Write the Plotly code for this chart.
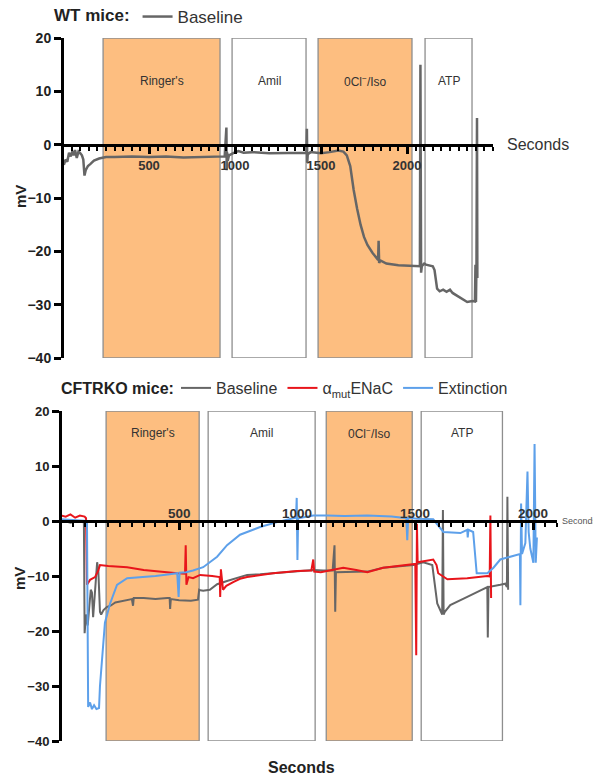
import plotly.graph_objects as go

# ---------------- protocol steps (seconds) ----------------
step_names = ["Ringer's", "Amil", "0Cl<sup>−</sup>/Iso", "ATP"]
step_fill = ["#FDBE80", "#FFFFFF", "#FDBE80", "#FFFFFF"]
wt_step_start = [233, 983, 1483, 2105]
wt_step_end = [913, 1413, 2029, 2378]
ko_step_start = [191, 623, 1123, 1525]
ko_step_end = [585, 1076, 1487, 1869]

# ---------------- WT mice: baseline trace ----------------
wt_t = [5, 15, 25, 35, 45, 55, 62, 70, 80, 90, 100, 110, 118, 125, 132, 145, 160, 180,
        210, 250, 300, 400, 500, 600, 700, 800, 900, 940, 950, 952, 955, 958, 965, 990,
        1020, 1050, 1100, 1200, 1300, 1400, 1415, 1418, 1420, 1423, 1440, 1500, 1550,
        1600, 1630, 1650, 1670, 1690, 1710, 1730, 1750, 1770, 1800, 1825, 1832, 1835,
        1838, 1845, 1880, 1950, 2050, 2075, 2078, 2082, 2086, 2100, 2110, 2150, 2160,
        2175, 2190, 2210, 2230, 2250, 2265, 2290, 2320, 2350, 2380, 2395, 2398, 2401,
        2404, 2407, 2409]
wt_mv = [-3.8, -2.8, -3.2, -1.5, -2.2, -1.2, -2.0, -1.0, -2.5, -1.3, -1.6, -2.0, -2.8,
         -5.8, -4.8, -4.0, -3.6, -3.0, -2.6, -2.3, -2.3, -2.2, -2.3, -2.2, -2.4, -2.3,
         -2.3, -2.2, 3.2, -4.8, -1.5, -3.0, -2.0, -1.6, -1.2, -1.5, -1.4, -1.6, -1.5,
         -1.4, -1.5, 3.0, -3.4, -1.8, -1.4, -1.6, -1.4, -1.1, -1.3, -2.0, -4.0, -8.5,
         -12.0, -15.0, -17.3, -18.8, -20.3, -21.3, -21.6, -18.0, -22.2, -21.7, -22.3,
         -22.6, -22.8, -22.8, 15.0, -24.0, -22.8, -22.3, -22.5, -22.8, -23.5, -27.0,
         -27.5, -27.2, -27.6, -27.2, -27.8, -28.3, -28.9, -29.5, -29.3, -29.4, -22.5,
         -29.5, -22.0, 5.0, -25.0]

# ---------------- CFTRKO mice ----------------
ko_base_t = [0, 40, 80, 97, 100, 106, 113, 120, 126, 131, 136, 142, 148, 153, 158, 165,
             170, 180, 195, 210, 230, 250, 270, 300, 305, 308, 350, 400, 450, 460, 462,
             465, 500, 550, 580, 585, 590, 602, 630, 661, 703, 758, 788, 843, 898, 950,
             1000, 1068, 1110, 1150, 1158, 1161, 1164, 1200, 1297, 1364, 1492, 1534,
             1572, 1593, 1614, 1617, 1620, 1625, 1648, 1720, 1805, 1807, 1810, 1860,
             1881, 1888, 1890, 1893]
ko_base_mv = [0.2, -0.3, 0.0, -0.3, -20.4, -17.0, -19.0, -15.5, -12.5, -13.0, -17.5,
              -14.0, -9.5, -7.5, -9.0, -16.5, -17.0, -16.2, -15.6, -15.4, -14.8, -14.6,
              -14.4, -14.2, -15.4, -14.0, -14.0, -14.2, -14.0, -14.0, -16.0, -14.2,
              -14.4, -14.5, -14.3, -12.5, -12.6, -12.7, -12.5, -11.5, -10.9, -10.2,
              -9.8, -9.7, -9.5, -9.4, -9.2, -8.9, -9.0, -9.0, -4.4, -16.5, -9.3, -9.3,
              -9.2, -8.5, -8.0, -7.5, -8.0, -15.0, -17.0, 2.0, -17.0, -16.5, -15.3,
              -13.8, -12.0, -21.2, -12.0, -11.6, -11.4, -12.0, 4.4, -12.5]

ko_enac_t = [0, 20, 40, 60, 80, 100, 106, 110, 123, 144, 158, 165, 200, 280, 350, 390,
             450, 492, 525, 528, 531, 540, 559, 589, 640, 661, 672, 674, 677, 686, 700,
             729, 758, 788, 843, 898, 1000, 1060, 1068, 1072, 1100, 1195, 1250, 1297,
             1364, 1479, 1500, 1504, 1507, 1510, 1534, 1576, 1590, 1597, 1636, 1720,
             1805, 1815, 1818, 1821]
ko_enac_mv = [1.0, 0.8, 1.2, 0.6, 1.0, 0.8, 0.5, -11.6, -10.7, -10.2, -9.0, -8.0, -8.2,
              -8.4, -8.9, -9.1, -9.4, -9.5, -9.6, -4.4, -11.6, -10.2, -10.4, -9.8,
              -10.0, -10.2, -10.2, -13.8, -8.8, -12.5, -11.8, -11.1, -10.5, -10.2, -9.8,
              -9.5, -9.1, -9.0, -7.0, -9.2, -9.3, -8.5, -8.9, -9.3, -8.5, -8.0, -7.8,
              -24.4, -0.5, -7.5, -7.3, -7.0, -8.0, -9.5, -10.6, -10.4, -10.0, -10.1,
              1.0, -14.0]

ko_ext_t = [0, 60, 110, 115, 123, 131, 140, 150, 161, 165, 174, 186, 208, 237, 280, 347,
            400, 460, 492, 498, 502, 530, 559, 602, 661, 703, 758, 843, 915, 983, 995,
            998, 1001, 1004, 1068, 1127, 1200, 1297, 1400, 1462, 1466, 1470, 1508, 1576,
            1600, 1619, 1691, 1720, 1722, 1725, 1745, 1760, 1805, 1831, 1860, 1936,
            1943, 1945, 1948, 1952, 1966, 1975, 1980, 1987, 2000, 2005, 2010, 2015]
ko_ext_mv = [0.3, 0.2, 0.0, -33.8, -33.0, -34.2, -33.5, -34.2, -34.0, -30.0, -24.7,
             -18.5, -15.0, -11.6, -10.4, -10.2, -10.0, -9.7, -9.5, -13.8, -9.4, -9.3,
             -9.0, -8.4, -6.5, -4.4, -2.5, -1.1, -0.2, 0.5, 0.6, 4.2, -7.1, 0.5, 1.0,
             1.0, 0.9, 1.0, 0.8, 0.5, -3.5, 0.6, 0.4, 0.3, -1.0, -2.0, -2.2, -1.6, -3.0,
             -1.6, -2.0, -9.5, -9.5, -8.5, -7.0, -6.2, -6.0, -15.3, 3.2, -6.0, -4.0,
             9.0, -2.0, -5.0, -7.6, 14.0, -7.6, -3.0]

x_ticks = [500, 1000, 1500, 2000]
y_ticks = [20, 10, 0, -10, -20, -30, -40]

W, H = 593, 775
FONT = "Arial, Liberation Sans, sans-serif"


def px_x(p):
    return p / W


def px_y(p):
    return 1 - p / H


fig = go.Figure()

fig.add_trace(go.Scatter(x=wt_t, y=wt_mv, mode="lines", name="Baseline",
                         line=dict(color="#666666", width=2.5), showlegend=True,
                         xaxis="x", yaxis="y", legend="legend"))

ko_series = [("Baseline", ko_base_t, ko_base_mv, "#666666"),
             ("α<sub>mut</sub>ENaC", ko_enac_t, ko_enac_mv, "#E8151B"),
             ("Extinction", ko_ext_t, ko_ext_mv, "#5DA0EA")]
for name, t, mv, col in ko_series:
    fig.add_trace(go.Scatter(x=t, y=mv, mode="lines", name=name,
                             line=dict(color=col, width=2), showlegend=True,
                             xaxis="x2", yaxis="y2", legend="legend2"))

# protocol boxes
shapes = []
annotations = []
for xa, ya, starts, ends, label_y in [("x", "y", wt_step_start, wt_step_end, 12),
                                      ("x2", "y2", ko_step_start, ko_step_end, 16)]:
    for name, s, e, fc in zip(step_names, starts, ends, step_fill):
        shapes.append(dict(type="rect", xref=xa, yref=ya, x0=s, x1=e, y0=-40, y1=20,
                           fillcolor=fc, line=dict(color="#8E8E8E", width=1.3),
                           layer="below"))
        annotations.append(dict(xref=xa, yref=ya, x=(s + e) / 2, y=label_y, text=name,
                                showarrow=False,
                                font=dict(family=FONT, size=12, color="#333333")))

# lower panel: second labels sit above the zero line
for v in x_ticks:
    annotations.append(dict(xref="x2", yref="y2", x=v, y=0, text=str(v),
                            yanchor="bottom", yshift=-2, showarrow=False,
                            font=dict(family=FONT, size=13.5, color="#333",
                                      weight="bold")))


def paper_text(x, y, text, size, color, **kw):
    d = dict(xref="paper", yref="paper", x=px_x(x), y=px_y(y), text=text,
             showarrow=False, xanchor="center", yanchor="middle",
             font=dict(family=FONT, size=size, color=color))
    d.update(kw)
    return d


# axis titles, side labels and the lower legend heading
annotations += [
    paper_text(21, 197, "<b>mV</b>", 15, "#222", textangle=-90),
    paper_text(19, 579, "<b>mV</b>", 15, "#222", textangle=-90),
    paper_text(505, 144, "Seconds", 16, "#333", xanchor="left"),
    paper_text(560, 521, "Seconds", 9, "#555", xanchor="left"),
    paper_text(301, 767, "<b>Seconds</b>", 16, "#222"),
    paper_text(59, 388, "<b>CFTRKO mice:</b>", 16, "#222", xanchor="left"),
]

xcommon = dict(showline=True, linewidth=3, linecolor="black", ticks="outside",
               ticklen=7, tickwidth=3, tickcolor="black", tickvals=x_ticks,
               showgrid=False, zeroline=False, anchor="free", side="bottom",
               automargin=False,
               tickfont=dict(family=FONT, size=13, color="#333", weight="bold"),
               minor=dict(ticks="outside", ticklen=4, tickwidth=2, tickcolor="black",
                          tickmode="linear", tick0=0, dtick=50, showgrid=False))
ycommon = dict(showline=True, linewidth=3, linecolor="black", ticks="outside",
               ticklen=7, tickwidth=3, tickcolor="black", tickvals=y_ticks,
               range=[-40, 20], showgrid=False, zeroline=False, anchor="free",
               automargin=False,
               tickfont=dict(family=FONT, size=14, color="#222", weight="bold"))

fig.update_layout(
    width=W, height=H,
    margin=dict(l=0, r=0, t=0, b=0, autoexpand=False),
    paper_bgcolor="white", plot_bgcolor="rgba(0,0,0,0)",
    font=dict(family=FONT),
    showlegend=True,
    shapes=shapes, annotations=annotations,
    xaxis=dict(xcommon, domain=[px_x(63), px_x(493)], range=[0, 2500],
               position=px_y(145)),
    yaxis=dict(ycommon, domain=[px_y(358), px_y(38)], position=px_x(62)),
    xaxis2=dict(xcommon, domain=[px_x(61), px_x(557)], range=[0, 2100],
                position=px_y(521), showticklabels=False),
    yaxis2=dict(ycommon, domain=[px_y(741), px_y(411)], position=px_x(60),
                tickfont=dict(family=FONT, size=13, color="#222", weight="bold")),
    legend=dict(orientation="h", x=px_x(52), y=px_y(17), xanchor="left",
                yanchor="middle", bgcolor="rgba(0,0,0,0)", itemwidth=30,
                title=dict(text="<b>WT mice:</b>", font=dict(size=17, color="#222")),
                font=dict(family=FONT, size=17, color="#333")),
    legend2=dict(orientation="h", x=px_x(176), y=px_y(388), xanchor="left",
                 yanchor="middle", bgcolor="rgba(0,0,0,0)", itemwidth=30,
                 font=dict(family=FONT, size=16, color="#333")),
)

fig.write_html("out.html")
